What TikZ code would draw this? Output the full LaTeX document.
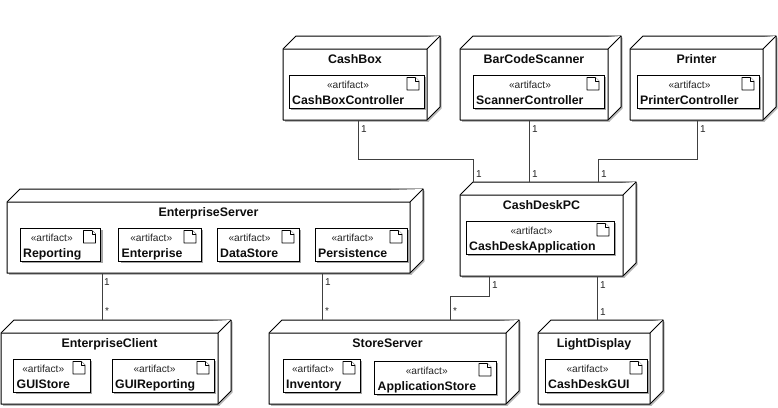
\documentclass[tikz,border=0pt]{standalone}
\usepackage{fontspec}
\setmainfont{Liberation Sans}
\tikzset{
  x=1pt,y=-1pt,
  devbbox/.style={inner sep=0pt,outer sep=0pt,anchor=north west},
  devface/.style={draw=black,line width=1pt,fill=white,line join=round},
  artbox/.style={draw=black,line width=0.9pt,fill=white,inner sep=0pt,outer sep=0pt,anchor=north west},
  artshadow/.style={fill=black!35,draw=none},
  icon/.style={draw=black,line width=0.6pt,fill=white,line join=round},
  devtitle/.style={font=\bfseries\fontsize{12.4}{14}\selectfont,inner sep=0pt,anchor=base,text=black!95},
  stereo/.style={font=\fontsize{10.2}{12}\selectfont,inner sep=0pt,text=black!85},
  artname/.style={font=\bfseries\fontsize{12.3}{14}\selectfont,inner sep=0pt,anchor=base west,text=black!95},
  conn/.style={draw=black!75,line width=0.8pt},
  mult/.style={font=\fontsize{10}{12}\selectfont,inner sep=0pt,text=black!85},
}
% name, x0,y0 (front top left), x1,y1 (front bottom right), title
\newcommand{\devbox}[6]{%
  \pgfmathsetmacro{\bw}{#4+13-#2}\pgfmathsetmacro{\bh}{#5-#3+13}%
  \pgfmathsetmacro{\tx}{(#2+#4)/2}%
  \fill[black!28] (#2+2,#3+2) rectangle (#4+2,#5+2);
  \fill[black!28] (#2+13,#3-13+1.5) -- (#4+13+1.5,#3-13+1.5) -- (#4+13+1.5,#5-13+1.5) -- (#4+1.5,#5+1.5) -- cycle;
  \node[devbbox,minimum width=\bw pt,minimum height=\bh pt] (#1) at (#2,#3-13) {};
  \draw[devface] (#2,#3) -- (#2+13,#3-13) -- (#4+13,#3-13) -- (#4+13,#5-13) -- (#4,#5) -- (#2,#5) -- cycle;
  \draw[devface] (#2,#3) -- (#4,#3) -- (#4+13,#3-13) (#4,#3) -- (#4,#5);
  \node[devtitle] (#1-title) at (\tx,#3+14) {#6};
}
% name, x0,y0,x1,y1, label
\newcommand{\artifact}[6]{%
  \pgfmathsetmacro{\aw}{#4-#2}\pgfmathsetmacro{\ah}{#5-#3}%
  \pgfmathsetmacro{\sx}{(#2+#4-17)/2}%
  \fill[artshadow] (#2+2,#3+2) rectangle (#4+2,#5+2);
  \node[artbox,minimum width=\aw pt,minimum height=\ah pt] (#1) at (#2,#3) {};
  \draw[icon] (#4-17,#3+2.5) -- (#4-8.5,#3+2.5) -- (#4-5,#3+6) -- (#4-5,#3+15) -- (#4-17,#3+15) -- cycle;
  \draw[icon] (#4-8.5,#3+2.5) -- (#4-8.5,#3+6) -- (#4-5,#3+6);
  \node[stereo] (#1-st) at (\sx,#3+10) {«artifact»};
  \node[artname] (#1-name) at (#2+3,#3+29.3) {#6};
}
\begin{document}
\begin{tikzpicture}
\useasboundingbox (0,0) rectangle (778,407);
\fill[white] (0,0) rectangle (778,407);

\devbox{cashbox}{283}{49}{427}{120}{CashBox}
\artifact{acashbox}{289}{75}{424}{108}{CashBoxController}
\devbox{barcode}{460}{49}{608}{120}{BarCodeScanner}
\artifact{ascanner}{473}{75}{604}{108}{ScannerController}
\devbox{printer}{630}{49}{763}{120}{Printer}
\artifact{aprinter}{637}{75}{759}{108}{PrinterController}

\devbox{entserver}{7}{202}{410}{273}{EnterpriseServer}
\artifact{areporting}{20}{228}{100.5}{261}{Reporting}
\artifact{aenterprise}{118.5}{228}{201}{261}{Enterprise}
\artifact{adatastore}{217}{228}{299}{261}{DataStore}
\artifact{apersistence}{315}{228}{407}{261}{Persistence}

\devbox{cashdesk}{460}{195}{623}{276}{CashDeskPC}
\artifact{acashdesk}{466}{221}{614}{254}{CashDeskApplication}

\devbox{entclient}{1}{333}{218}{404}{EnterpriseClient}
\artifact{aguistore}{13.5}{359}{90}{392}{GUIStore}
\artifact{aguireporting}{112}{359}{214}{392}{GUIReporting}

\devbox{storeserver}{269}{333}{506}{404}{StoreServer}
\artifact{ainventory}{283}{359}{360}{392}{Inventory}
\artifact{aappstore}{374.5}{361}{496}{394}{ApplicationStore}

\devbox{lightdisplay}{538}{333}{650}{404}{LightDisplay}
\artifact{acashgui}{545}{359}{647}{392}{CashDeskGUI}

\draw[conn] ([xshift=75.7pt]cashbox.south west) -- ++(0,39.5) -| ([xshift=13pt]cashdesk.north west);
\draw[conn] ([xshift=69pt]barcode.south west) -- ([xshift=69pt]cashdesk.north west);
\draw[conn] ([xshift=67.7pt]printer.south west) -- ++(0,39.5) -| ([xshift=138.3pt]cashdesk.north west);
\draw[conn] ([xshift=101.5pt]entclient.north west) -- ([xshift=95.5pt]entserver.south west);
\draw[conn] ([xshift=53pt]storeserver.north west) -- ([xshift=315pt]entserver.south west);
\draw[conn] ([xshift=29.7pt]cashdesk.south west) -- ++(0,20.5) -| ([xshift=181.3pt]storeserver.north west);
\draw[conn] ([xshift=137pt]cashdesk.south west) -- ([xshift=59pt]lightdisplay.north west);

\node[mult] (m1) at (364,129) {1};
\node[mult] (m2) at (479,174) {1};
\node[mult] (m3) at (535,129) {1};
\node[mult] (m4) at (535,174) {1};
\node[mult] (m5) at (703,129) {1};
\node[mult] (m6) at (604,174) {1};
\node[mult] (m7) at (107,282) {1};
\node[mult] (m8) at (107,311) {*};
\node[mult] (m9) at (328,282) {1};
\node[mult] (m10) at (327,311) {*};
\node[mult] (m11) at (495,285) {1};
\node[mult] (m12) at (455,311) {*};
\node[mult] (m13) at (603,285) {1};
\node[mult] (m14) at (603,312) {1};
\end{tikzpicture}
\end{document}
